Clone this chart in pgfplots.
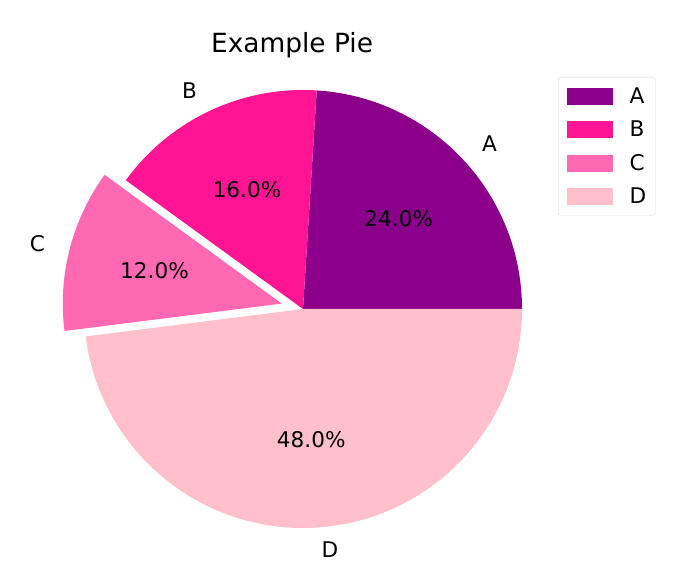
\documentclass[border=0pt]{standalone}
\usepackage{fontspec}
\setmainfont{DejaVu Sans}
\usepackage{pgfplots}
\usepackage{pgfplotstable}
\pgfplotsset{compat=1.18}
\definecolor{pA}{HTML}{8B008B}
\definecolor{pB}{HTML}{FF1493}
\definecolor{pC}{HTML}{FF69B4}
\definecolor{pD}{HTML}{FFC0CB}
\newcommand\labfont{\fontsize{21.6}{26}\selectfont}
\pgfplotstableread{
label value explode color
A 24 0 pA
B 16 0 pB
C 12 0.1 pC
D 48 0 pD
}\piedata
\begin{document}
\begin{tikzpicture}
\begin{axis}[
  hide axis, scale only axis, width=677pt, height=572pt,
  xmin=-1.38356, xmax=1.70776, ymin=-1.20091, ymax=1.41096,
  clip=false,
  legend style={at={(axis cs:1.1644,1.0594)}, anchor=north west,
    draw=black!15, rounded corners=3pt, font=\labfont,
    inner xsep=9pt, inner ysep=10.5pt, row sep=16pt, column sep=17pt,
    nodes={inner sep=0pt}, cells={anchor=west}},
]
\path (rel axis cs:0,0) rectangle (rel axis cs:1,1);
\def\cum{0}
\pgfplotsforeachungrouped \i in {0,...,3}{%
  \pgfplotstablegetelem{\i}{value}\of\piedata \let\val\pgfplotsretval
  \pgfplotstablegetelem{\i}{explode}\of\piedata \let\ex\pgfplotsretval
  \pgfplotstablegetelem{\i}{color}\of\piedata \let\col\pgfplotsretval
  \pgfplotstablegetelem{\i}{label}\of\piedata \let\lab\pgfplotsretval
  \pgfmathsetmacro\sa{\cum*3.6}%
  \pgfmathsetmacro\ea{(\cum+\val)*3.6}%
  \pgfmathsetmacro\ma{(\sa+\ea)/2}%
  \pgfmathsetmacro\cx{\ex*cos(\ma)}%
  \pgfmathsetmacro\cy{\ex*sin(\ma)}%
  \pgfmathsetmacro\px{\cx+cos(\sa)}%
  \pgfmathsetmacro\py{\cy+sin(\sa)}%
  \pgfmathsetmacro\lx{\cx+1.1*cos(\ma)}%
  \pgfmathsetmacro\ly{\cy+1.1*sin(\ma)}%
  \pgfmathsetmacro\tx{\cx+0.6*cos(\ma)}%
  \pgfmathsetmacro\ty{\cy+0.6*sin(\ma)}%
  \pgfmathparse{cos(\ma)>0 ? 1 : 0}%
  \ifdim\pgfmathresult pt>0.5pt \def\anc{west}\else\def\anc{east}\fi
  \edef\tmp{\noexpand\fill[\col] (axis cs:\cx,\cy) -- (axis cs:\px,\py) arc[start angle=\sa, end angle=\ea, radius=219pt] -- cycle;
    \noexpand\node[anchor=\anc, font=\noexpand\labfont] at (axis cs:\lx,\ly) {\lab};
    \noexpand\node[font=\noexpand\labfont] at (axis cs:\tx,\ty) {\val.0\noexpand\%};}%
  \tmp
  \pgfmathsetmacro\cum{\cum+\val}%
}
\node[font=\fontsize{26.4}{31}\selectfont] at (axis cs:-0.05,1.2055) {Example Pie};
\addlegendimage{legend image code/.code={\fill[pA, sharp corners] (0pt,-8pt) rectangle (45pt,8pt);}}
\addlegendimage{legend image code/.code={\fill[pB, sharp corners] (0pt,-8pt) rectangle (45pt,8pt);}}
\addlegendimage{legend image code/.code={\fill[pC, sharp corners] (0pt,-8pt) rectangle (45pt,8pt);}}
\addlegendimage{legend image code/.code={\fill[pD, sharp corners] (0pt,-8pt) rectangle (45pt,8pt);}}
\legend{A,B,C,D}
\end{axis}
\end{tikzpicture}
\end{document}
